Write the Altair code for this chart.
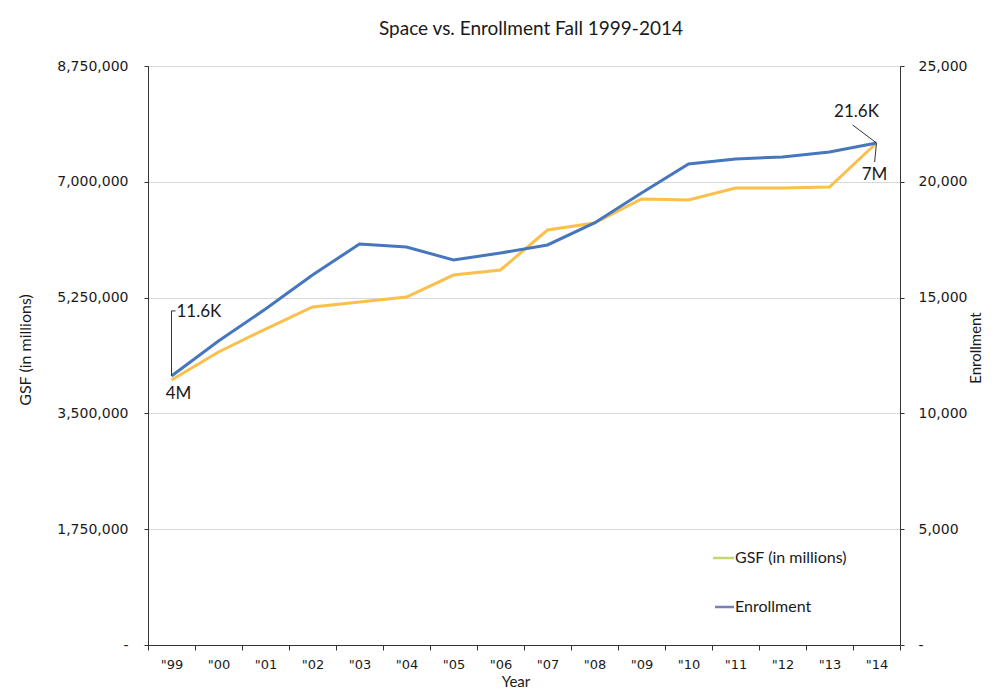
import altair as alt
import pandas as pd

# ---------------- data ----------------
years = list(range(1999, 2015))
gsf = [4005000, 4428000, 4775000, 5108000, 5183000, 5259000, 5591000, 5667000,
       6271000, 6377000, 6740000, 6725000, 6906000, 6906000, 6921000, 7586000]
enrollment = [11615, 13127, 14508, 15977, 17315, 17186, 16624, 16927,
              17272, 18222, 19517, 20770, 20985, 21072, 21288, 21676]
gsf_ticks = [0, 1750000, 3500000, 5250000, 7000000, 8750000]
enr_ticks = [0, 5000, 10000, 15000, 20000, 25000]
series_names = ["GSF (in millions)", "Enrollment"]
gsf_labels = ["4M", "7M"]
enr_labels = ["11.6K", "21.6K"]
chart_title = "Space vs. Enrollment Fall 1999-2014"
x_title = "Year"

# ---------------- styles ----------------
ORANGE = "#FBC04B"
BLUE = "#4677BE"
LEG_GSF = "#C6D86B"
LEG_ENR = "#7B7FB9"
AX = "#333333"
TXT = "#1a1a1a"
FONT = "Lato"
TICKFONT = "DejaVu Sans"

df = pd.DataFrame({"year": years, "gsf": gsf, "enrollment": enrollment})
gsf_ann = pd.DataFrame({"year": [years[0], years[-1]], "gsf": [gsf[0], gsf[-1]], "label": gsf_labels})
enr_ann = pd.DataFrame({"year": [years[0], years[-1]], "enrollment": [enrollment[0], enrollment[-1]], "label": enr_labels})

xscale = alt.Scale(domain=[years[0] - 0.5, years[-1] + 0.5], nice=False, zero=False)
gsf_scale = alt.Scale(domain=[gsf_ticks[0], gsf_ticks[-1]], nice=False)
enr_scale = alt.Scale(domain=[enr_ticks[0], enr_ticks[-1]], nice=False)

xaxis = alt.Axis(
    values=[y - 0.5 for y in years] + [years[-1] + 0.5],
    labelExpr="datum.value > 2014 ? '' : '\"' + substring(toString(datum.value + 0.5), 2, 4)",
    labelOffset=23.5, labelFlush=False, labelOverlap=False,
    tickSize=5, labelPadding=8, title=None, grid=False,
    domainColor=AX, tickColor=AX, labelColor=TXT,
    labelFont=TICKFONT, labelFontSize=13,
)
left_axis = alt.Axis(
    values=gsf_ticks, labelExpr="datum.value == 0 ? '-' : format(datum.value, ',')",
    tickSize=4, labelPadding=16, title=None, grid=True, gridColor="#d9d9d9",
    domainColor=AX, tickColor=AX, labelColor=TXT, labelFont=TICKFONT, labelFontSize=14,
)
right_axis = alt.Axis(
    orient="right", values=enr_ticks, labelExpr="datum.value == 0 ? '-' : format(datum.value, ',')",
    tickSize=4, labelPadding=14, title=None, grid=False,
    domainColor=AX, tickColor=AX, labelColor=TXT, labelFont=TICKFONT, labelFontSize=14,
)

X = alt.X("year:Q", scale=xscale, axis=xaxis)
Yg = alt.Y("gsf:Q", scale=gsf_scale, axis=left_axis)
Ye = alt.Y("enrollment:Q", scale=enr_scale, axis=right_axis)

# ---------------- GSF group (left axis) ----------------
gsf_line = alt.Chart(df).mark_line(color=ORANGE, strokeWidth=3).encode(x=X, y=Yg)

gsf_txt1 = alt.Chart(gsf_ann).transform_filter(alt.datum.label == gsf_labels[0]).mark_text(
    font=FONT, fontSize=17, color=TXT, align="center", baseline="middle", dx=7, dy=14
).encode(x=X, y=Yg, text="label:N")
gsf_txt2 = alt.Chart(gsf_ann).transform_filter(alt.datum.label == gsf_labels[1]).mark_text(
    font=FONT, fontSize=17, color=TXT, align="center", baseline="middle", dx=-2, dy=32
).encode(x=X, y=Yg, text="label:N")
gsf_lead = alt.Chart(gsf_ann).transform_filter(alt.datum.label == gsf_labels[1]).transform_calculate(
    x2="datum.year - 0.04", y2="datum.gsf - 287000"
).mark_rule(color=AX, strokeWidth=1).encode(
    x=X, x2="x2:Q", y=Yg, y2="y2:Q")

# titles / legend drawn as text
ytitle = alt.Chart(pd.DataFrame({"t": [series_names[0]]})).mark_text(
    font=FONT, fontSize=16, color=TXT, angle=270, align="center", baseline="middle"
).encode(x=alt.value(-122), y=alt.value(284), text="t:N")
xtitle = alt.Chart(pd.DataFrame({"t": [x_title]})).mark_text(
    font=FONT, fontSize=15, color=TXT, align="center", baseline="middle"
).encode(x=alt.value(368), y=alt.value(616), text="t:N")

leg_df1 = pd.DataFrame({"t": [series_names[0]]})
leg_df2 = pd.DataFrame({"t": [series_names[1]]})
leg1_sw = alt.Chart(leg_df1).mark_rule(color=LEG_GSF, strokeWidth=2.5).encode(
    x=alt.value(565), x2=alt.value(586), y=alt.value(492))
leg1_tx = alt.Chart(leg_df1).mark_text(font=FONT, fontSize=16, color=TXT, align="left", baseline="middle").encode(
    x=alt.value(587), y=alt.value(492), text="t:N")
leg2_sw = alt.Chart(leg_df2).mark_rule(color=LEG_ENR, strokeWidth=2.5).encode(
    x=alt.value(567), x2=alt.value(586), y=alt.value(541))
leg2_tx = alt.Chart(leg_df2).mark_text(font=FONT, fontSize=16, color=TXT, align="left", baseline="middle").encode(
    x=alt.value(587), y=alt.value(541), text="t:N")

left_group = alt.layer(gsf_line, gsf_lead, gsf_txt1, gsf_txt2, ytitle, xtitle,
                       leg1_sw, leg1_tx, leg2_sw, leg2_tx)

# ---------------- Enrollment group (right axis) ----------------
enr_line = alt.Chart(df).mark_line(color=BLUE, strokeWidth=3).encode(x=X, y=Ye)

enr_txt1 = alt.Chart(enr_ann).transform_filter(alt.datum.label == enr_labels[0]).mark_text(
    font=FONT, fontSize=17, color=TXT, align="left", baseline="middle", dx=5, dy=-64
).encode(x=X, y=Ye, text="label:N")
enr_txt2 = alt.Chart(enr_ann).transform_filter(alt.datum.label == enr_labels[1]).mark_text(
    font=FONT, fontSize=17, color=TXT, align="center", baseline="middle", dx=-20, dy=-31
).encode(x=X, y=Ye, text="label:N")
enr_lead1 = alt.Chart(enr_ann).transform_filter(alt.datum.label == enr_labels[0]).transform_calculate(
    top="datum.enrollment + 2810"
).mark_rule(color=AX, strokeWidth=1).encode(x=X, y=Ye, y2="top:Q")
enr_lead1b = alt.Chart(enr_ann).transform_filter(alt.datum.label == enr_labels[0]).transform_calculate(
    top="datum.enrollment + 2810", x2="datum.year + 0.085"
).mark_rule(color=AX, strokeWidth=1).encode(
    x=X, x2="x2:Q", y=alt.Y("top:Q", scale=enr_scale, axis=right_axis))
enr_lead2 = alt.Chart(enr_ann).transform_filter(alt.datum.label == enr_labels[1]).transform_calculate(
    x2="datum.year - 0.51", y2="datum.enrollment + 780"
).mark_rule(color=AX, strokeWidth=1).encode(x=X, x2="x2:Q", y=Ye, y2="y2:Q")

rtitle = alt.Chart(pd.DataFrame({"t": [series_names[1]]})).mark_text(
    font=FONT, fontSize=15, color=TXT, angle=270, align="center", baseline="middle"
).encode(x=alt.value(828), y=alt.value(282), text="t:N")

right_group = alt.layer(enr_line, enr_lead1, enr_lead1b, enr_lead2, enr_txt1, enr_txt2, rtitle)

chart = alt.layer(left_group, right_group).resolve_scale(y="independent").properties(
    width=752, height=579,
    autosize=alt.AutoSizeParams(type="none"),
    padding={"left": 140, "top": 58, "right": 88, "bottom": 44},
    title=alt.TitleParams(text=chart_title, font=FONT, fontSize=19, fontWeight="normal",
                          color=TXT, anchor="middle", dx=7, offset=20),
).configure_view(stroke=None)

chart.save("out.html", embed_options={"renderer": "svg", "actions": False})
